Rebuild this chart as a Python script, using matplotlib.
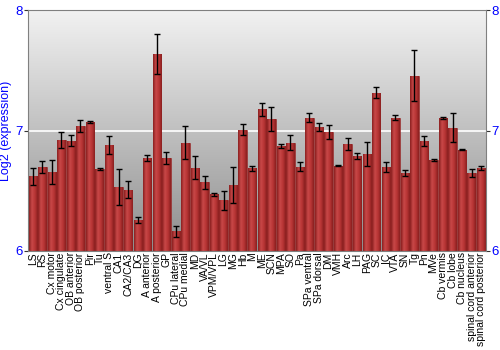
import numpy as np
import matplotlib
matplotlib.use("Agg")
import matplotlib.pyplot as plt
from matplotlib.colors import LinearSegmentedColormap

plt.rcParams["font.family"] = ["Liberation Sans", "DejaVu Sans"]

regions = ["LS", "RS", "Cx motor", "Cx cingulate", "OB anterior", "OB posterior",
           "Pir", "Tu", "ventral S", "CA1", "CA2/CA3", "DG", "A anterior",
           "A posterior", "GP", "CPu lateral", "CPu medial", "MD", "VA/VL",
           "VPM/VPL", "LG", "MG", "Hb", "M", "ME", "SCN", "MPA", "SO", "Pa",
           "SPa ventral", "SPa dorsal", "DM", "VMH", "Arc", "LH", "PAG", "SC",
           "IC", "VTA", "SN", "Tg", "Pn", "MVe", "Cb vermis", "Cb lobe",
           "Cb nucleus", "spinal cord anterior", "spinal cord posterior"]
expr = [6.62, 6.70, 6.655, 6.92, 6.914, 7.04, 7.07, 6.68, 6.88, 6.53, 6.51,
        6.256, 6.77, 7.636, 6.77, 6.164, 6.90, 6.69, 6.57, 6.47, 6.42, 6.547,
        7.008, 6.686, 7.175, 7.094, 6.875, 6.90, 6.70, 7.108, 7.03, 6.989,
        6.708, 6.889, 6.79, 6.805, 7.314, 6.697, 7.108, 6.644, 7.456, 6.914,
        6.756, 7.103, 7.025, 6.839, 6.65, 6.689]
err = [0.07, 0.05, 0.10, 0.065, 0.045, 0.05, 0.01, 0.01, 0.075, 0.15, 0.067,
       0.025, 0.025, 0.17, 0.05, 0.045, 0.14, 0.095, 0.055, 0.014, 0.08, 0.15,
       0.045, 0.022, 0.055, 0.10, 0.017, 0.065, 0.04, 0.037, 0.033, 0.06,
       0.003, 0.047, 0.027, 0.097, 0.047, 0.04, 0.018, 0.025, 0.214, 0.04,
       0.011, 0.01, 0.122, 0.004, 0.033, 0.014]

fig = plt.figure(figsize=(5, 3.5), dpi=100)
ax = fig.add_axes([0.056, 0.283, 0.916, 0.688])
x = np.arange(len(regions))
ax.set_xlim(-0.5, len(regions) - 0.5)
ax.set_ylim(6, 8)

# vertical grey gradient background
bg = LinearSegmentedColormap.from_list("bg", ["#8e8e8e", "#f2f2f2"])
ax.imshow(np.linspace(0, 1, 256).reshape(-1, 1), cmap=bg, origin="lower",
          extent=[-0.5, len(regions) - 0.5, 6, 8], aspect="auto", zorder=0)
ax.axhline(7, color="white", lw=1.2, zorder=1)

bars = ax.bar(x, np.array(expr) - 6, bottom=6, width=0.88, color="#b53333",
              edgecolor="#8c2020", linewidth=0.4, zorder=2)

# horizontal shading inside each bar
shade = LinearSegmentedColormap.from_list("shade", ["#8a1f1f", "#c84848", "#b83535", "#8a1f1f"])
grad = np.linspace(0, 1, 64).reshape(1, -1)
for b in bars:
    im = ax.imshow(grad, cmap=shade, aspect="auto", zorder=2.5,
                   extent=[b.get_x(), b.get_x() + b.get_width(), 6, b.get_height() + 6])
    im.set_clip_path(b)

ax.errorbar(x, expr, yerr=err, fmt="none", ecolor="black", elinewidth=1,
            capsize=2, capthick=1, zorder=3)

ax.set_xticks(x)
ax.set_xticklabels(regions, rotation=90, fontsize=7.5)
ax.tick_params(axis="x", length=0, pad=1)
ax.set_yticks([6, 7, 8])
ax.tick_params(axis="y", colors="#333333", labelcolor="blue", labelsize=9.5,
               length=3, right=True, labelright=True, pad=1)
ax.set_ylabel("Log2 (expression)", color="blue", fontsize=9, labelpad=2)
for s in ax.spines.values():
    s.set_color("#808080")

fig.savefig("out.png", dpi=100)
